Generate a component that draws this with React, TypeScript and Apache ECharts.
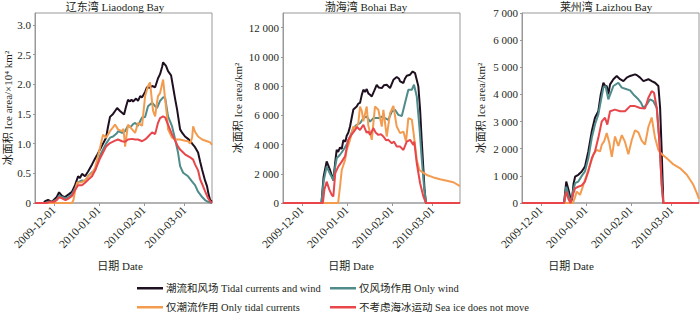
import React, { useEffect, useRef } from "react";
import * as echarts from "echarts";

// x values are day offsets from 2009-11-18; y values are ice area
const BASE_DATE = Date.UTC(2009, 10, 18);
const X_MAX_DAY = 122;
const monthTickDays = [13, 44, 75, 103];

const seriesNames = [
  "潮流和风场 Tidal currents and wind",
  "仅风场作用 Only wind",
  "仅潮流作用 Only tidal currents",
  "不考虑海冰运动 Sea ice does not move",
];
const seriesColors = ["#1e1020", "#4f8b8a", "#f39c4f", "#e8464a"];

const panelTitles = ["辽东湾 Liaodong Bay", "渤海湾 Bohai Bay", "莱州湾 Laizhou Bay"];
const yAxisNames = ["冰面积 Ice area/×10⁴ km²", "冰面积 Ice area/km²", "冰面积 Ice area/km²"];
const xAxisTitle = "日期 Date";

const liaodongTicks = [0, 0.5, 1, 1.5, 2, 2.5, 3];
const bohaiTicks = [0, 2000, 4000, 6000, 8000, 10000, 12000];
const laizhouTicks = [0, 1000, 2000, 3000, 4000, 5000, 6000, 7000];

// 辽东湾 (×10^4 km²)
const liaodongTidalWind = [[0,0],[6,0],[7,0.03],[9,0.05],[11.7,0.02],[15,0.1],[16.6,0.18],[18.6,0.12],[20.7,0.1],[23.4,0.15],[25.5,0.19],[27.6,0.3],[29.7,0.45],[31,0.42],[32.4,0.49],[34.5,0.45],[36.6,0.53],[39.3,0.65],[41.4,0.75],[42.8,0.81],[44.8,0.9],[46.9,1.0],[49,1.1],[50.3,1.28],[51.7,1.45],[53.8,1.5],[55.2,1.55],[56.6,1.6],[58.6,1.55],[60,1.52],[61.4,1.49],[62.5,1.6],[64.1,1.74],[65.5,1.71],[66.5,1.74],[67.6,1.71],[69.7,1.76],[71,1.72],[72.5,1.8],[73.8,1.78],[75.9,1.87],[77.2,1.95],[79,1.94],[80.7,1.97],[82.8,1.95],[84.8,2.1],[86.2,2.17],[87.6,2.29],[88.3,2.37],[90.3,2.31],[91.7,2.22],[93.8,2.15],[95.2,1.95],[96.6,1.75],[97.9,1.58],[100,1.24],[101.5,1.18],[103.4,1.12],[105.5,1.08],[106.9,1.05],[108.3,1.0],[110.3,0.94],[112.4,0.85],[113.8,0.7],[115.2,0.56],[117.2,0.38],[118.6,0.28],[119.6,0.15],[120.7,0.05],[122,0.02]];
const liaodongWind = [[0,0],[7,0],[9,0.02],[12,0.02],[15,0.06],[16.6,0.12],[18.6,0.1],[21,0.08],[23.4,0.1],[25.5,0.15],[27.6,0.25],[29.7,0.35],[32.4,0.38],[34.5,0.37],[36.6,0.45],[39.3,0.52],[41.4,0.55],[44.8,0.8],[46.9,0.9],[49,1.0],[51.7,1.1],[53.8,1.12],[56.6,1.18],[57.2,1.21],[60,1.18],[62.1,1.21],[64.1,1.3],[66,1.28],[67.6,1.33],[69,1.35],[71,1.3],[72.5,1.38],[73.8,1.44],[75.9,1.45],[77.9,1.63],[80.7,1.69],[82.8,1.63],[84.1,1.6],[86.2,1.72],[88.3,1.78],[89.7,1.77],[91.7,1.46],[94.5,1.29],[96.6,1.07],[98.6,0.85],[100,0.62],[102.1,0.51],[105.5,0.45],[108.3,0.36],[110.3,0.3],[112.4,0.19],[115.2,0.1],[117.2,0.05],[119.3,0.02],[122,0]];
const liaodongTidal = [[0,0],[25.5,0],[26.5,0.05],[27.6,0.2],[29,0.34],[32.4,0.35],[34.5,0.38],[36.6,0.45],[39.3,0.5],[41.4,0.59],[44.8,0.93],[46.9,1.15],[49,1.1],[51.7,1.21],[55.2,1.32],[57.2,1.24],[60,1.21],[61,1.25],[62.1,0.95],[64.1,1.32],[66.9,1.24],[69,1.18],[71,1.35],[73.8,1.3],[75.9,1.8],[77.9,1.97],[79.3,2.03],[80.7,1.7],[81.4,1.55],[82.8,1.46],[84.1,1.7],[84.8,1.8],[86.2,1.85],[88.3,2.08],[89.7,1.75],[91,1.46],[91.7,1.24],[94.5,1.1],[96.6,1.07],[100,1.07],[103.4,1.05],[105.5,1.04],[106.9,1.0],[108.3,1.1],[109,1.29],[110.3,1.2],[112.4,1.12],[115.2,1.07],[118.6,1.04],[120.7,1.02],[122,0.98]];
const liaodongStatic = [[0,0],[8,0],[10,0.02],[13,0.02],[15,0.05],[16.6,0.1],[18.6,0.08],[21,0.05],[23.4,0.08],[25.5,0.12],[27.6,0.22],[29.7,0.3],[32.4,0.3],[34.5,0.34],[36.6,0.39],[39.3,0.45],[41.4,0.55],[44.8,0.75],[46.9,0.85],[49,0.95],[51.7,1.01],[55.2,1.05],[57.2,1.07],[60,1.04],[62.1,1.03],[64.1,1.07],[66.9,1.08],[69,1.07],[71,1.07],[73.8,1.04],[75.9,1.07],[77.2,1.1],[80.7,1.19],[82.8,1.16],[84.8,1.35],[86.2,1.43],[88.3,1.46],[89.7,1.44],[91.7,1.32],[94.5,1.15],[96.6,1.05],[98.6,0.95],[100,0.9],[103.4,0.82],[106.9,0.77],[109,0.73],[110.3,0.65],[112.4,0.55],[113.8,0.4],[115.2,0.32],[117.2,0.2],[119.3,0.08],[120.7,0.03],[122,0]];

// 渤海湾 (km²)
const bohaiTidalWind = [[0,0],[26.5,0],[28,1800],[30.1,2850],[32.4,2260],[34.7,1550],[36,2800],[37,3630],[38,3500],[39.3,3800],[40.5,3700],[41.6,4300],[43,4200],[43.9,4600],[45,4800],[46.2,5230],[47.5,5900],[48.5,6400],[50.8,6600],[51.9,6800],[53.1,6850],[54.3,7400],[55.4,7750],[56.6,7600],[57.7,7800],[58.8,7500],[60,7400],[61.2,7290],[63,7700],[64.6,8090],[66,7900],[68.1,7860],[69.5,8050],[71.5,8090],[73.8,7860],[76.1,8430],[78.4,8620],[80,8500],[80.7,8320],[83,8210],[84,8500],[85.3,8710],[87.6,8780],[89.4,9000],[91,8890],[92,8500],[93.3,7980],[94.5,6380],[95.7,4110],[96.8,2260],[97.5,1000],[98.5,0],[122,0]];
const bohaiWind = [[0,0],[26.5,0],[28,1500],[30.1,2490],[32.4,2000],[34.7,1580],[36,2500],[37,3060],[39.3,3300],[41.6,3630],[43.9,4000],[46.2,4550],[48.5,5120],[50.8,5350],[53.1,5460],[55.4,5810],[57.7,5920],[60,5570],[62.3,5810],[65.7,5810],[68.1,5900],[70.3,5810],[72.6,5690],[75,6260],[77.2,6380],[79.5,6030],[81.9,5950],[84.1,6840],[86.4,7750],[88.8,7750],[90.3,8090],[92.2,7290],[94,5230],[95.7,2950],[97.2,1120],[98.6,0],[122,0]];
const bohaiTidal = [[0,0],[38,0],[39.3,1120],[40.5,2260],[42.8,2950],[43.9,3630],[46.2,4320],[48.5,5230],[50,5100],[51.9,5460],[53.1,6600],[54.3,6300],[55.4,5600],[57.7,6600],[58.8,5300],[61.2,4320],[63.4,6600],[65.7,6380],[68.1,5230],[69.2,6380],[71.5,4550],[73.8,6150],[76.1,6650],[78.4,5230],[80.7,4780],[83,4890],[84.8,4200],[86.4,5810],[88.8,5700],[90.3,4550],[92.2,2950],[94,2260],[96.8,2060],[99.1,1920],[103.7,1750],[108.3,1620],[112.9,1520],[117.4,1420],[122,1150]];
const bohaiStatic = [[0,0],[27.5,0],[28.5,900],[30.1,1460],[32,900],[33.6,550],[34.7,450],[36,2030],[37,2260],[38.1,2490],[40.5,2830],[42.8,3200],[45,4320],[47.4,4700],[49.7,5000],[51,5200],[53.1,5000],[55.4,5350],[57.7,4800],[58.8,4890],[60,4660],[62.3,5120],[64,4800],[65.7,4660],[67.5,4700],[69.2,4550],[71,4300],[72.6,4320],[75,4090],[76.5,4200],[78.4,3860],[80.7,3860],[83,3630],[85.3,4200],[87.6,4320],[89.9,3970],[90.5,4200],[92.2,2720],[94.5,1350],[96.8,430],[98.5,0],[122,0]];

// 莱州湾 (km²)
const laizhouTidalWind = [[0,0],[29,0],[30.5,790],[32,500],[33.5,150],[34.5,100],[35.5,700],[36.6,970],[38.8,1040],[41.2,1160],[43.4,1340],[45.7,1900],[48.1,2640],[50.3,3140],[52.6,3380],[54.3,4000],[56.1,4430],[57.5,4300],[58.4,4310],[59.5,4000],[60.7,4370],[63,4560],[65.3,4680],[67.6,4560],[69.9,4490],[72.2,4620],[74.5,4680],[77.9,4740],[79.5,4700],[81.4,4620],[83.7,4490],[87.1,4560],[89.4,4490],[91.7,4430],[94,4310],[95.2,3500],[96.3,1900],[97.4,0],[122,0]];
const laizhouWind = [[0,0],[29,0],[30.5,600],[32,300],[33.5,0],[35,400],[36.6,730],[38.8,790],[41.2,1000],[43.4,1160],[45.7,1650],[48.1,2400],[50.3,2890],[52.6,3260],[54.3,3750],[56.1,4250],[57.6,4310],[59.5,3820],[61.2,4060],[63,4310],[66.4,4430],[68.8,4250],[72.2,4190],[74.5,4150],[76.8,4000],[80.2,3820],[82,3700],[83.7,3500],[86,3630],[88.3,3820],[90.6,3750],[92.9,3500],[94.7,2270],[96.3,670],[97.4,0],[122,0]];
const laizhouTidal = [[0,0],[35,0],[36.5,200],[37.7,420],[40,300],[42.3,670],[44.6,1040],[46.9,1410],[49.2,1780],[51.5,1960],[53.8,1900],[55,2150],[56.6,2270],[58.4,2580],[60.2,2210],[61.9,1700],[64.1,2450],[66.4,2100],[68.8,2500],[71,2250],[73.3,1800],[75.7,2330],[77.9,2680],[80.2,2600],[82.5,2300],[84.8,2150],[87.1,2800],[89.4,3150],[91.7,2400],[94,1950],[96.3,1800],[99.8,1650],[104.4,1420],[109,1280],[113.6,1040],[118.1,670],[120.5,360],[122,150]];
const laizhouStatic = [[0,0],[29,0],[30.5,420],[32,150],[33.5,0],[35,300],[36.6,540],[38.8,600],[41.2,650],[43.4,790],[45.7,1160],[48.1,1650],[50.3,1900],[52.6,2400],[55,3010],[57.2,3140],[58.8,2890],[60.7,3380],[64.1,3440],[67.6,3380],[71,3380],[74.5,3570],[77.9,3570],[81.4,3500],[84.8,3480],[87.1,3880],[89.4,4120],[91,4060],[92.9,3500],[94.7,2270],[96.3,670],[97.4,0],[122,0]];

const FONT = '"Liberation Serif", "Times New Roman", "Noto Sans CJK SC", serif';
const TEXT_COLOR = "#231f20";
const FRAME = "#999999";

const pad2 = (n: number) => (n < 10 ? "0" + n : "" + n);
const dayLabel = (d: number) => {
  const t = new Date(BASE_DATE + Math.round(d) * 86400000);
  return `${t.getUTCFullYear()}-${pad2(t.getUTCMonth() + 1)}-${pad2(t.getUTCDate())}`;
};
const fmtDecimal = (v: number) => (v === 0 ? "0" : v.toFixed(1));
const fmtThousands = (v: number) =>
  v === 0 ? "0" : `${Math.floor(v / 1000)} ${String(v % 1000).padStart(3, "0")}`;

const panels = [
  { left: 35, yMax: 3.2, ticks: liaodongTicks, fmt: fmtDecimal, nameGap: 21, titleX: 115, xTitleX: 120,
    data: [liaodongTidalWind, liaodongWind, liaodongTidal, liaodongStatic] },
  { left: 283, yMax: 13000, ticks: bohaiTicks, fmt: fmtThousands, nameGap: 40, titleX: 366, xTitleX: 351,
    data: [bohaiTidalWind, bohaiWind, bohaiTidal, bohaiStatic] },
  { left: 522, yMax: 7000, ticks: laizhouTicks, fmt: fmtThousands, nameGap: 36, titleX: 606, xTitleX: 571,
    data: [laizhouTidalWind, laizhouWind, laizhouTidal, laizhouStatic] },
];

export default function App() {
  const ref = useRef<HTMLDivElement>(null);
  useEffect(() => {
    if (!ref.current) return;
    const chart = echarts.init(ref.current, null, { renderer: "svg" });
    const grids = panels.map((p) => ({
      left: p.left, top: 13, width: 177, height: 190,
      show: true, borderColor: FRAME, borderWidth: 1,
      containLabel: false, outerBoundsMode: "none",
    }));
    const xAxes = panels.map((p, i) => ({
      type: "value", gridIndex: i, min: 0, max: X_MAX_DAY,
      splitLine: { show: false },
      axisLine: { show: true, lineStyle: { color: "#aaaaaa", width: 1.5 } },
      axisTick: { show: true, customValues: monthTickDays, length: 3, lineStyle: { color: FRAME } },
      axisLabel: {
        customValues: monthTickDays, rotate: 45, margin: 5,
        formatter: (v: number) => dayLabel(v),
        fontSize: 11.5, fontFamily: FONT, color: TEXT_COLOR,
      },
    }));
    const yAxes = panels.map((p, i) => ({
      type: "value", gridIndex: i, min: 0, max: p.yMax,
      name: yAxisNames[i], nameLocation: "middle", nameGap: p.nameGap,
      nameTextStyle: { fontSize: 11, fontFamily: FONT, color: TEXT_COLOR },
      splitLine: { show: false },
      axisLine: { show: true, lineStyle: { color: FRAME, width: 1 } },
      axisTick: { show: true, customValues: p.ticks, length: 2, lineStyle: { color: FRAME } },
      axisLabel: {
        customValues: p.ticks, margin: 4,
        formatter: (v: number) => p.fmt(v),
        fontSize: 11, fontFamily: FONT, color: TEXT_COLOR,
      },
    }));
    const series: any[] = [];
    panels.forEach((p, i) => {
      p.data.forEach((d, k) => {
        series.push({
          type: "line", name: seriesNames[k], xAxisIndex: i, yAxisIndex: i,
          data: d, showSymbol: false, symbol: "none", silent: true,
          lineStyle: { color: seriesColors[k], width: 2 },
          itemStyle: { color: seriesColors[k] },
        });
      });
    });
    const legendPos = [
      { left: 137, top: 283 },
      { left: 330, top: 283 },
      { left: 137, top: 302 },
      { left: 330, top: 302 },
    ];
    const legends = seriesNames.map((n, k) => ({
      data: [{ name: n, icon: "rect", itemStyle: { color: seriesColors[k] } }],
      left: legendPos[k].left, top: legendPos[k].top,
      itemWidth: 26, itemHeight: 2.5, itemGap: 4, padding: 0,
      selectedMode: false,
      textStyle: { fontSize: 10.5, fontFamily: FONT, color: TEXT_COLOR, padding: [0, 0, 0, -2] },
    }));
    const graphics: any[] = [];
    panels.forEach((p, i) => {
      graphics.push({
        type: "text", x: p.titleX, y: 7,
        style: { text: panelTitles[i], fontSize: 11, fontFamily: FONT, fill: TEXT_COLOR, align: "center", verticalAlign: "middle" },
      });
      graphics.push({
        type: "text", x: p.xTitleX, y: 266,
        style: { text: xAxisTitle, fontSize: 11, fontFamily: FONT, fill: TEXT_COLOR, align: "center", verticalAlign: "middle" },
      });
    });
    chart.setOption({
      animation: false,
      backgroundColor: "#ffffff",
      grid: grids,
      xAxis: xAxes,
      yAxis: yAxes,
      legend: legends,
      series,
      graphic: graphics,
    } as any);
    return () => chart.dispose();
  }, []);
  return <div ref={ref} style={{ position: "fixed", left: 0, top: 0, width: 700, height: 313 }} />;
}
